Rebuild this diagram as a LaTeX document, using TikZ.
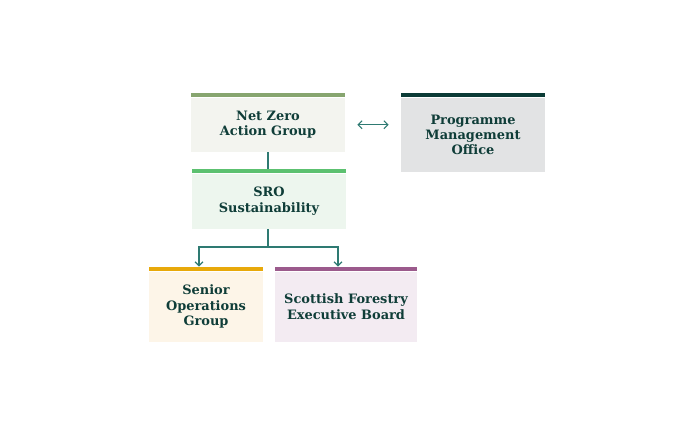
\documentclass[tikz,border=0pt]{standalone}
\usepackage{fontspec}
\setmainfont{DejaVu Serif}
\usetikzlibrary{arrows.meta}

\definecolor{ink}{HTML}{0F3D38}
\definecolor{link}{HTML}{2E7A72}
\definecolor{sagebar}{HTML}{87A56F}
\definecolor{sagefill}{HTML}{F3F4EF}
\definecolor{pmobar}{HTML}{0B3B36}
\definecolor{pmofill}{HTML}{E2E3E4}
\definecolor{srobar}{HTML}{5CC170}
\definecolor{srofill}{HTML}{EDF6EE}
\definecolor{seniorbar}{HTML}{E8A90A}
\definecolor{seniorfill}{HTML}{FDF5E8}
\definecolor{boardbar}{HTML}{9B5A8C}
\definecolor{boardfill}{HTML}{F3EBF2}

\tikzset{
  orgbox/.style={fill=#1, inner sep=0pt, align=center, text=ink,
    font=\bfseries\fontsize{9.7}{11.5}\selectfont},
  linkline/.style={draw=link, line width=1pt},
  linktip/.style={-{Straight Barb[length=3pt,width=6pt]}}
}

\begin{document}
\begin{tikzpicture}[x=0.75pt,y=-0.75pt]
    \useasboundingbox (0,0) rectangle (674,446);
    \node[orgbox=sagefill, minimum width=154*0.75pt, minimum height=54.5*0.75pt] (nz) at (268,124.75) {Net Zero\\Action Group};
    \node[orgbox=pmofill, minimum width=144*0.75pt, minimum height=74.5*0.75pt] (pmo) at (473,134.75) {Programme\\Management\\Office};
    \node[orgbox=srofill, minimum width=154*0.75pt, minimum height=55.5*0.75pt] (sro) at (269,201.25) {SRO\\Sustainability};
    \node[orgbox=seniorfill, minimum width=114*0.75pt, minimum height=70.5*0.75pt] (senior) at (206,306.75) {Senior\\Operations\\Group};
    \node[orgbox=boardfill, minimum width=142*0.75pt, minimum height=70.5*0.75pt] (board) at (346,306.75) {Scottish Forestry\\Executive Board};
    \foreach \n/\c in {nz/sagebar, pmo/pmobar, sro/srobar, senior/seniorbar, board/boardbar}
      \fill[\c] (\n.north west) rectangle ([shift={(0,-4.5)}]\n.north east);
    \coordinate (split) at (268,247);
    \draw[linkline] (nz.south -| split) -- ([shift={(0,-4.5)}]sro.north -| split);
    \draw[linkline] (sro.south -| split) -- (split);
    \draw[linkline, linktip] (split) -| ([shift={(-7,-4.5)}]senior.north);
    \draw[linkline, linktip] (split) -| ([shift={(-8,-4.5)}]board.north);
    \draw[linkline, line width=0.8pt, {Straight Barb[length=3pt,width=6pt]}-{Straight Barb[length=3pt,width=6pt]}, shorten <=9pt, shorten >=9pt] (nz.east) -- (nz.east -| pmo.west);
\end{tikzpicture}
\end{document}
